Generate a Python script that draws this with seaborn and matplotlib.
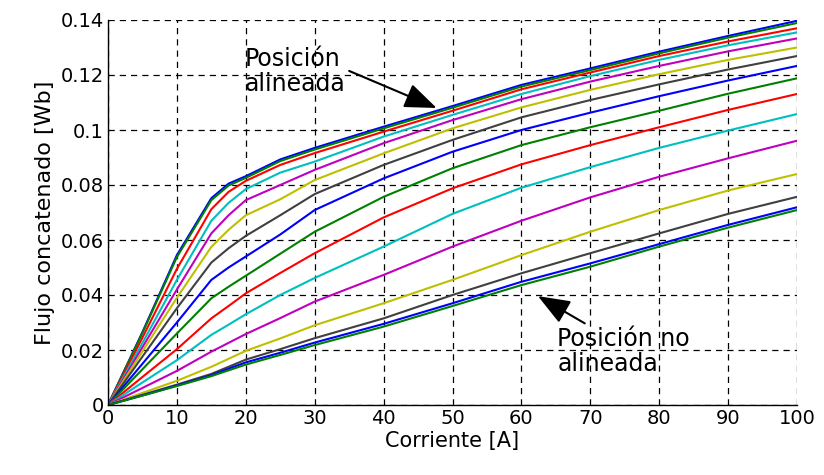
import numpy as np
import pandas as pd
import matplotlib
matplotlib.use("Agg")
import matplotlib.pyplot as plt
import seaborn as sns

corriente = [0, 5, 10, 15, 17.5, 20, 25, 30, 40, 50, 60, 70, 80, 90, 100]

c01 = [0, 0.0265, 0.0545, 0.0752, 0.0805, 0.0832, 0.0893, 0.0935, 0.1012, 0.1087, 0.1164, 0.1224, 0.1285, 0.1342, 0.1397]
c02 = [0, 0.0262, 0.0538, 0.0745, 0.0798, 0.0826, 0.0887, 0.0929, 0.1006, 0.1081, 0.1158, 0.1218, 0.1279, 0.1336, 0.1389]
c03 = [0, 0.0245, 0.0495, 0.0712, 0.0775, 0.0815, 0.0873, 0.0916, 0.0994, 0.1070, 0.1148, 0.1209, 0.1269, 0.1322, 0.1370]
c04 = [0, 0.0226, 0.0455, 0.0670, 0.0735, 0.0785, 0.0845, 0.0885, 0.0976, 0.1055, 0.1131, 0.1196, 0.1255, 0.1308, 0.1355]
c05 = [0, 0.0210, 0.0420, 0.0624, 0.0690, 0.0745, 0.0800, 0.0855, 0.0952, 0.1036, 0.1112, 0.1176, 0.1233, 0.1286, 0.1333]
c06 = [0, 0.0195, 0.0390, 0.0575, 0.0637, 0.0690, 0.0748, 0.0818, 0.0915, 0.1006, 0.1082, 0.1146, 0.1203, 0.1255, 0.1300]
c07 = [0, 0.0176, 0.0352, 0.0518, 0.0570, 0.0615, 0.0690, 0.0767, 0.0873, 0.0964, 0.1046, 0.1109, 0.1166, 0.1220, 0.1269]
c08 = [0, 0.0150, 0.0300, 0.0455, 0.0500, 0.0540, 0.0620, 0.0709, 0.0824, 0.0921, 0.1000, 0.1063, 0.1123, 0.1180, 0.1233]
c09 = [0, 0.0130, 0.0260, 0.0388, 0.0430, 0.0470, 0.0550, 0.0630, 0.0757, 0.0861, 0.0945, 0.1010, 0.1070, 0.1132, 0.1188]
c10 = [0, 0.0102, 0.0203, 0.0315, 0.0360, 0.0406, 0.0480, 0.0552, 0.0682, 0.0788, 0.0875, 0.0945, 0.1010, 0.1073, 0.1131]
c11 = [0, 0.0082, 0.0163, 0.0255, 0.0292, 0.0330, 0.0400, 0.0462, 0.0576, 0.0695, 0.0790, 0.0865, 0.0935, 0.0998, 0.1058]
c12 = [0, 0.0062, 0.0124, 0.0194, 0.0226, 0.0258, 0.0316, 0.0376, 0.0473, 0.0576, 0.0670, 0.0755, 0.0830, 0.0897, 0.0961]
c13 = [0, 0.0044, 0.0088, 0.0139, 0.0168, 0.0197, 0.0242, 0.0290, 0.0370, 0.0455, 0.0545, 0.0630, 0.0709, 0.0780, 0.0840]
c14 = [0, 0.0037, 0.0074, 0.0113, 0.0139, 0.0165, 0.0203, 0.0243, 0.0315, 0.0400, 0.0479, 0.0552, 0.0624, 0.0695, 0.0757]
c15 = [0, 0.0035, 0.0071, 0.0108, 0.0132, 0.0155, 0.0190, 0.0227, 0.0295, 0.0370, 0.0448, 0.0515, 0.0585, 0.0655, 0.0719]
c16 = [0, 0.0034, 0.0069, 0.0105, 0.0126, 0.0147, 0.0182, 0.0218, 0.0285, 0.0360, 0.0436, 0.0503, 0.0576, 0.0645, 0.0709]

curvas = [c01, c02, c03, c04, c05, c06, c07, c08, c09, c10, c11, c12, c13, c14, c15, c16]

x_ticks = [0, 10, 20, 30, 40, 50, 60, 70, 80, 90, 100]
y_ticks = [0, 0.02, 0.04, 0.06, 0.08, 0.10, 0.12, 0.14]
y_tick_labels = ["0", "0.02", "0.04", "0.06", "0.08", "0.1", "0.12", "0.14"]

matlab_cycle = [(0, 0, 1), (0, 0.5, 0), (1, 0, 0), (0, 0.75, 0.75),
                (0.75, 0, 0.75), (0.75, 0.75, 0), (0.25, 0.25, 0.25)]

rows = []
for i, c in enumerate(curvas):
    for xv, yv in zip(corriente, c):
        rows.append({"curva": i, "Corriente": xv, "Flujo": yv})
df = pd.DataFrame(rows)
palette = {i: matlab_cycle[i % 7] for i in range(len(curvas))}

sns.set_style("white")
plt.rcParams['font.family'] = ['DejaVu Sans']
plt.rcParams['text.color'] = 'black'
plt.rcParams['axes.labelcolor'] = 'black'
plt.rcParams['xtick.color'] = 'black'
plt.rcParams['ytick.color'] = 'black'

fig = plt.figure(figsize=(8.24, 4.75), dpi=100)
ax = fig.add_axes([108/824, 1 - 405/475, (797-108)/824, (405-20)/475])

sns.lineplot(data=df, x="Corriente", y="Flujo", hue="curva", palette=palette,
             linewidth=1.5, legend=False, ax=ax, sort=False, estimator=None)
for ln in ax.get_lines():
    ln.set_solid_joinstyle('round')

ax.set_xlim(0, 100)
ax.set_ylim(0, 0.14)
ax.set_xticks(x_ticks)
ax.set_xticklabels([str(v) for v in x_ticks], fontsize=14)
ax.set_yticks(y_ticks)
ax.set_yticklabels(y_tick_labels, fontsize=14)
ax.grid(True, color='black', linestyle=(0, (5, 4)), linewidth=0.9)
ax.set_axisbelow(True)
for s in ['top', 'right']:
    ax.spines[s].set_visible(False)
for s in ['left', 'bottom']:
    ax.spines[s].set_color('black')
    ax.spines[s].set_linewidth(1.0)
ax.tick_params(direction='in', length=5, width=0.8, colors='black', pad=3)

ax.set_xlabel("Corriente [A]", fontsize=15, labelpad=2, color='black')
ax.set_ylabel("Flujo concatenado [Wb]", fontsize=16, labelpad=4, color='black')

ax.annotate("Posición\nalineada", xy=(47.7, 0.108), xytext=(19.9, 0.1300),
            fontsize=17, ha='left', va='top', linespacing=1.05, color='black',
            arrowprops=dict(arrowstyle='-|>,head_length=0.9,head_width=0.35',
                            mutation_scale=22, color='black', lw=1.5,
                            shrinkA=0, shrinkB=0, relpos=(1.0, 0.55)))

ax.annotate("Posición no\nalineada", xy=(62.4, 0.0396), xytext=(65.2, 0.0285),
            fontsize=17, ha='left', va='top', linespacing=1.05, color='black',
            arrowprops=dict(arrowstyle='-|>,head_length=0.9,head_width=0.35',
                            mutation_scale=22, color='black', lw=1.5,
                            shrinkA=0, shrinkB=0, relpos=(0.25, 1.0)))

fig.savefig("out.png", dpi=100)
